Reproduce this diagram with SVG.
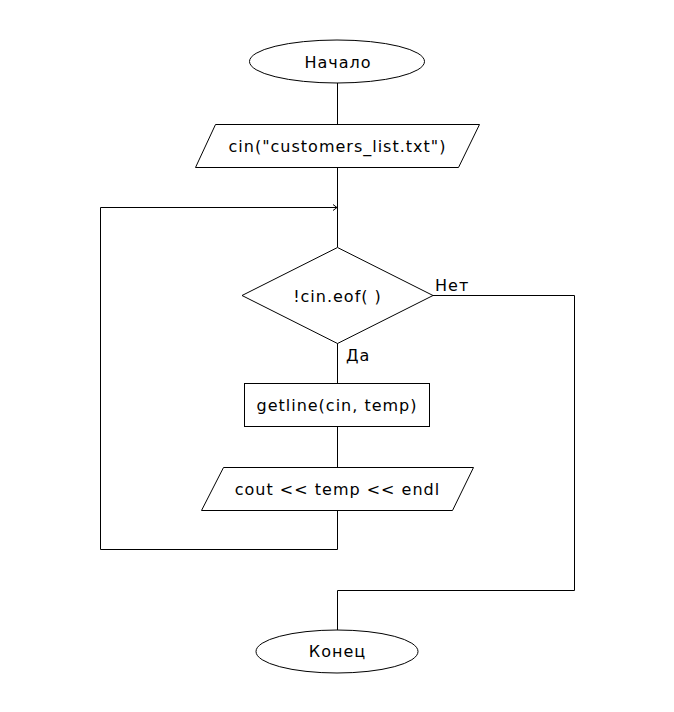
<svg xmlns="http://www.w3.org/2000/svg" width="674" height="712" viewBox="0 0 674 712">
<defs>
<style>
.s{fill:#fff;stroke:#000;stroke-width:1}
.c{fill:none;stroke:#000;stroke-width:1}
.t{font-family:"DejaVu Sans",Verdana,sans-serif;font-size:16px;letter-spacing:1px;fill:#000;text-anchor:middle}
.l{font-family:"DejaVu Sans",Verdana,sans-serif;font-size:16px;letter-spacing:1px;fill:#000}
</style>
<marker id="arr" markerWidth="6" markerHeight="8" refX="5" refY="4" orient="auto" markerUnits="userSpaceOnUse">
<path d="M1,1 L5,4 L1,7" fill="none" stroke="#000" stroke-width="1"/>
</marker>
</defs>
<rect width="674" height="712" fill="#fff"/>
<g id="connectors">
<path class="c" d="M337.5,83 V124"/>
<path class="c" d="M337.5,167 V247"/>
<path class="c" d="M337.5,343 V383"/>
<path class="c" d="M337.5,426 V467"/>
<path class="c" d="M337.5,510 V549.5 H100.5 V207.5 H337" marker-end="url(#arr)"/>
<path class="c" d="M433,295.5 H574.5 V590.5 H337.5 V630"/>
<text class="l" x="435" y="291">Нет</text>
<text class="l" x="346" y="361">Да</text>
</g>
<g id="start">
<ellipse class="s" cx="337" cy="61.5" rx="87.5" ry="21.5"/>
<text class="t" x="338" y="67.5">Начало</text>
</g>
<g id="input">
<polygon class="s" points="215.5,124.5 479.5,124.5 458.5,167.5 195.5,167.5"/>
<text class="t" x="337.5" y="152">cin("customers_list.txt")</text>
</g>
<g id="cond">
<polygon class="s" points="337.5,247.5 433,295.5 337.5,343.5 242,295.5"/>
<text class="t" x="337.5" y="302">!cin.eof( )</text>
</g>
<g id="getline">
<rect class="s" x="244.5" y="383.5" width="185" height="43"/>
<text class="t" x="337" y="411">getline(cin, temp)</text>
</g>
<g id="output">
<polygon class="s" points="223.5,467.5 473.5,467.5 452.5,510.5 201.5,510.5"/>
<text class="t" x="337.5" y="495">cout &lt;&lt; temp &lt;&lt; endl</text>
</g>
<g id="end">
<ellipse class="s" cx="337" cy="651.5" rx="81" ry="21.5"/>
<text class="t" x="337.5" y="657">Конец</text>
</g>
</svg>
